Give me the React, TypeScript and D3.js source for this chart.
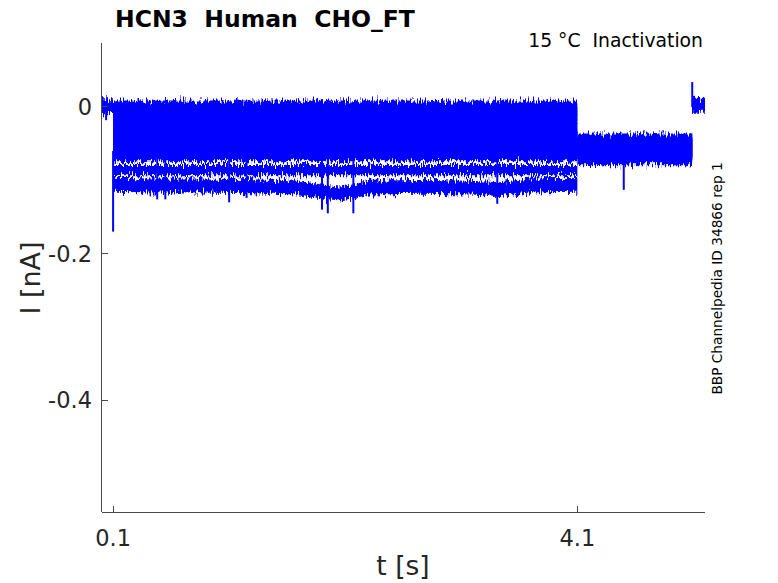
import { useEffect, useRef } from "react";
import * as d3 from "d3";

// sweep levels in nA
const preLevel = 0.001;
const postLevel = 0.003;
const pulseLevels = [0.002, -0.006, -0.013, -0.021, -0.029, -0.036, -0.043, -0.05, -0.057, -0.067, -0.086];
const tailLevels = [-0.045, -0.05, -0.055, -0.043, -0.06, -0.048, -0.065, -0.052, -0.058, -0.068, -0.062];

// deepest (noisiest) sweep drifts during the pulse
const deepT = [0.1, 0.42, 0.85, 1.28, 1.71, 1.88, 2.05, 2.18, 2.31, 2.74, 3.17, 3.43, 3.69, 4.1];
const deepI = [-0.106, -0.107, -0.107, -0.108, -0.11, -0.115, -0.118, -0.115, -0.11, -0.109, -0.11, -0.112, -0.107, -0.106];
const deepTail = -0.07;

// protocol times (s): hold, pulse start, tail start, tail end, end
const tStart = 0;
const tPulse = 0.1;
const tTail = 4.1;
const tPost = 5.09;
const tEnd = 5.2;

// single-sample spikes
const spikeT = [0.04, 0.1, 0.48, 0.55, 1.1, 1.25, 1.9, 1.95, 2.17, 3.41, 4.5, 5.09, 1.15];
const spikeI = [-0.018, -0.17, -0.126, -0.126, -0.13, -0.124, -0.14, -0.145, -0.145, -0.132, -0.113, 0.034, 0.01];

const xTicks = [0.1, 4.1];
const yTicks = [0, -0.2, -0.4];

const W = 778;
const H = 583;
const halfW = 0.007; // half thickness of one noisy trace
const deepHalfW = 0.0095;

type Pt = [number, number];

function sweepPoints(pulse: Pt[], tail: number): Pt[] {
  return [
    [tStart, preLevel],
    [tPulse, preLevel],
    ...pulse,
    [tTail, tail],
    [tPost, tail],
    [tPost, postLevel],
    [tEnd, postLevel],
  ];
}

const App = () => {
  const ref = useRef<SVGSVGElement>(null);

  useEffect(() => {
    if (!ref.current) return;
    const svg = d3.select(ref.current);
    svg.selectAll("*").remove();

    const x = d3.scaleLinear().domain([0, 5.2]).range([101.5, 705]);
    const y = d3.scaleLinear().domain([-0.5525, 0.0873]).range([512, 43]);
    const axisColor = "#4a4a4a";
    const textColor = "#262626";
    const font = "DejaVu Sans, sans-serif";

    // noise texture: vertical-only displacement
    const defs = svg.append("defs");
    const filter = defs
      .append("filter")
      .attr("id", "noise")
      .attr("filterUnits", "userSpaceOnUse")
      .attr("x", 90)
      .attr("y", 40)
      .attr("width", 630)
      .attr("height", 220)
      .attr("color-interpolation-filters", "sRGB");
    filter
      .append("feTurbulence")
      .attr("type", "fractalNoise")
      .attr("baseFrequency", "0.6 0.12")
      .attr("numOctaves", 2)
      .attr("seed", 7)
      .attr("result", "turb");
    filter
      .append("feColorMatrix")
      .attr("in", "turb")
      .attr("type", "matrix")
      .attr("values", "0 0 0 0 0.5  0 1 0 0 0  0 0 0 0 0  0 0 0 0 1")
      .attr("result", "map");
    filter
      .append("feDisplacementMap")
      .attr("in", "SourceGraphic")
      .attr("in2", "map")
      .attr("scale", 14)
      .attr("xChannelSelector", "R")
      .attr("yChannelSelector", "G");

    const sweeps: Pt[][] = pulseLevels.map((L, i) =>
      sweepPoints([[tPulse, L], [tTail, L]], tailLevels[i])
    );
    const deep = sweepPoints(deepT.map((t, i) => [t, deepI[i]] as Pt), deepTail);

    const area = (hw: number) =>
      d3
        .area<Pt>()
        .x((d) => x(d[0]))
        .y0((d) => y(d[1] - hw))
        .y1((d) => y(d[1] + hw));

    const traces = svg.append("g").attr("filter", "url(#noise)");
    traces
      .selectAll("path.sweep")
      .data(sweeps)
      .enter()
      .append("path")
      .attr("class", "sweep")
      .attr("d", (d) => area(halfW)(d))
      .attr("fill", "#0000ff");
    traces.append("path").attr("d", area(deepHalfW)(deep)).attr("fill", "#0000ff");

    // spikes
    svg
      .append("g")
      .selectAll("line")
      .data(spikeT)
      .enter()
      .append("line")
      .attr("x1", (t) => x(t))
      .attr("x2", (t) => x(t))
      .attr("y1", (t, i) => y(spikeI[i] > 0 || t < tPulse ? 0 : -0.06))
      .attr("y2", (t, i) => y(spikeI[i]))
      .attr("stroke", "#0000ff")
      .attr("stroke-width", 2);

    // axes
    const ax = svg.append("g").attr("stroke", axisColor).attr("stroke-width", 1).attr("shape-rendering", "crispEdges");
    ax.append("line").attr("x1", x(0)).attr("x2", x(0)).attr("y1", y.range()[1]).attr("y2", y.range()[0]);
    ax.append("line").attr("x1", x(0)).attr("x2", x(5.2)).attr("y1", y.range()[0]).attr("y2", y.range()[0]);
    yTicks.forEach((v) => {
      ax.append("line").attr("x1", x(0)).attr("x2", x(0) + 6).attr("y1", y(v)).attr("y2", y(v));
    });
    xTicks.forEach((v) => {
      ax.append("line").attr("x1", x(v)).attr("x2", x(v)).attr("y1", y.range()[0]).attr("y2", y.range()[0] - 6);
    });

    const txt = svg.append("g").attr("font-family", font).attr("fill", textColor);
    yTicks.forEach((v) => {
      txt
        .append("text")
        .attr("x", 92)
        .attr("y", y(v) + 8)
        .attr("text-anchor", "end")
        .attr("font-size", 22.5)
        .text(v === 0 ? "0" : String(v));
    });
    xTicks.forEach((v) => {
      txt
        .append("text")
        .attr("x", x(v))
        .attr("y", 546)
        .attr("text-anchor", "middle")
        .attr("font-size", 22.5)
        .text(String(v));
    });
    txt
      .append("text")
      .attr("x", 403)
      .attr("y", 575)
      .attr("text-anchor", "middle")
      .attr("font-size", 26.5)
      .text("t [s]");
    txt
      .append("text")
      .attr("transform", `translate(40,278) rotate(-90)`)
      .attr("text-anchor", "middle")
      .attr("font-size", 27)
      .text("I [nA]");

    txt
      .append("text")
      .attr("x", 115)
      .attr("y", 27)
      .attr("font-size", 23.5)
      .attr("font-weight", "bold")
      .attr("fill", "#000")
      .style("white-space", "pre")
      .text("HCN3  Human  CHO_FT");
    txt
      .append("text")
      .attr("x", 703)
      .attr("y", 47)
      .attr("text-anchor", "end")
      .attr("font-size", 18.8)
      .attr("fill", "#000")
      .style("white-space", "pre")
      .text("15 °C  Inactivation");
    txt
      .append("text")
      .attr("transform", `translate(722,278.5) rotate(-90)`)
      .attr("text-anchor", "middle")
      .attr("font-size", 13.7)
      .attr("fill", "#000")
      .text("BBP Channelpedia ID 34866 rep 1");
  }, []);

  return <svg ref={ref} width={W} height={H} style={{ position: "absolute", left: 0, top: 0, background: "#fff" }} />;
};

export default App;
